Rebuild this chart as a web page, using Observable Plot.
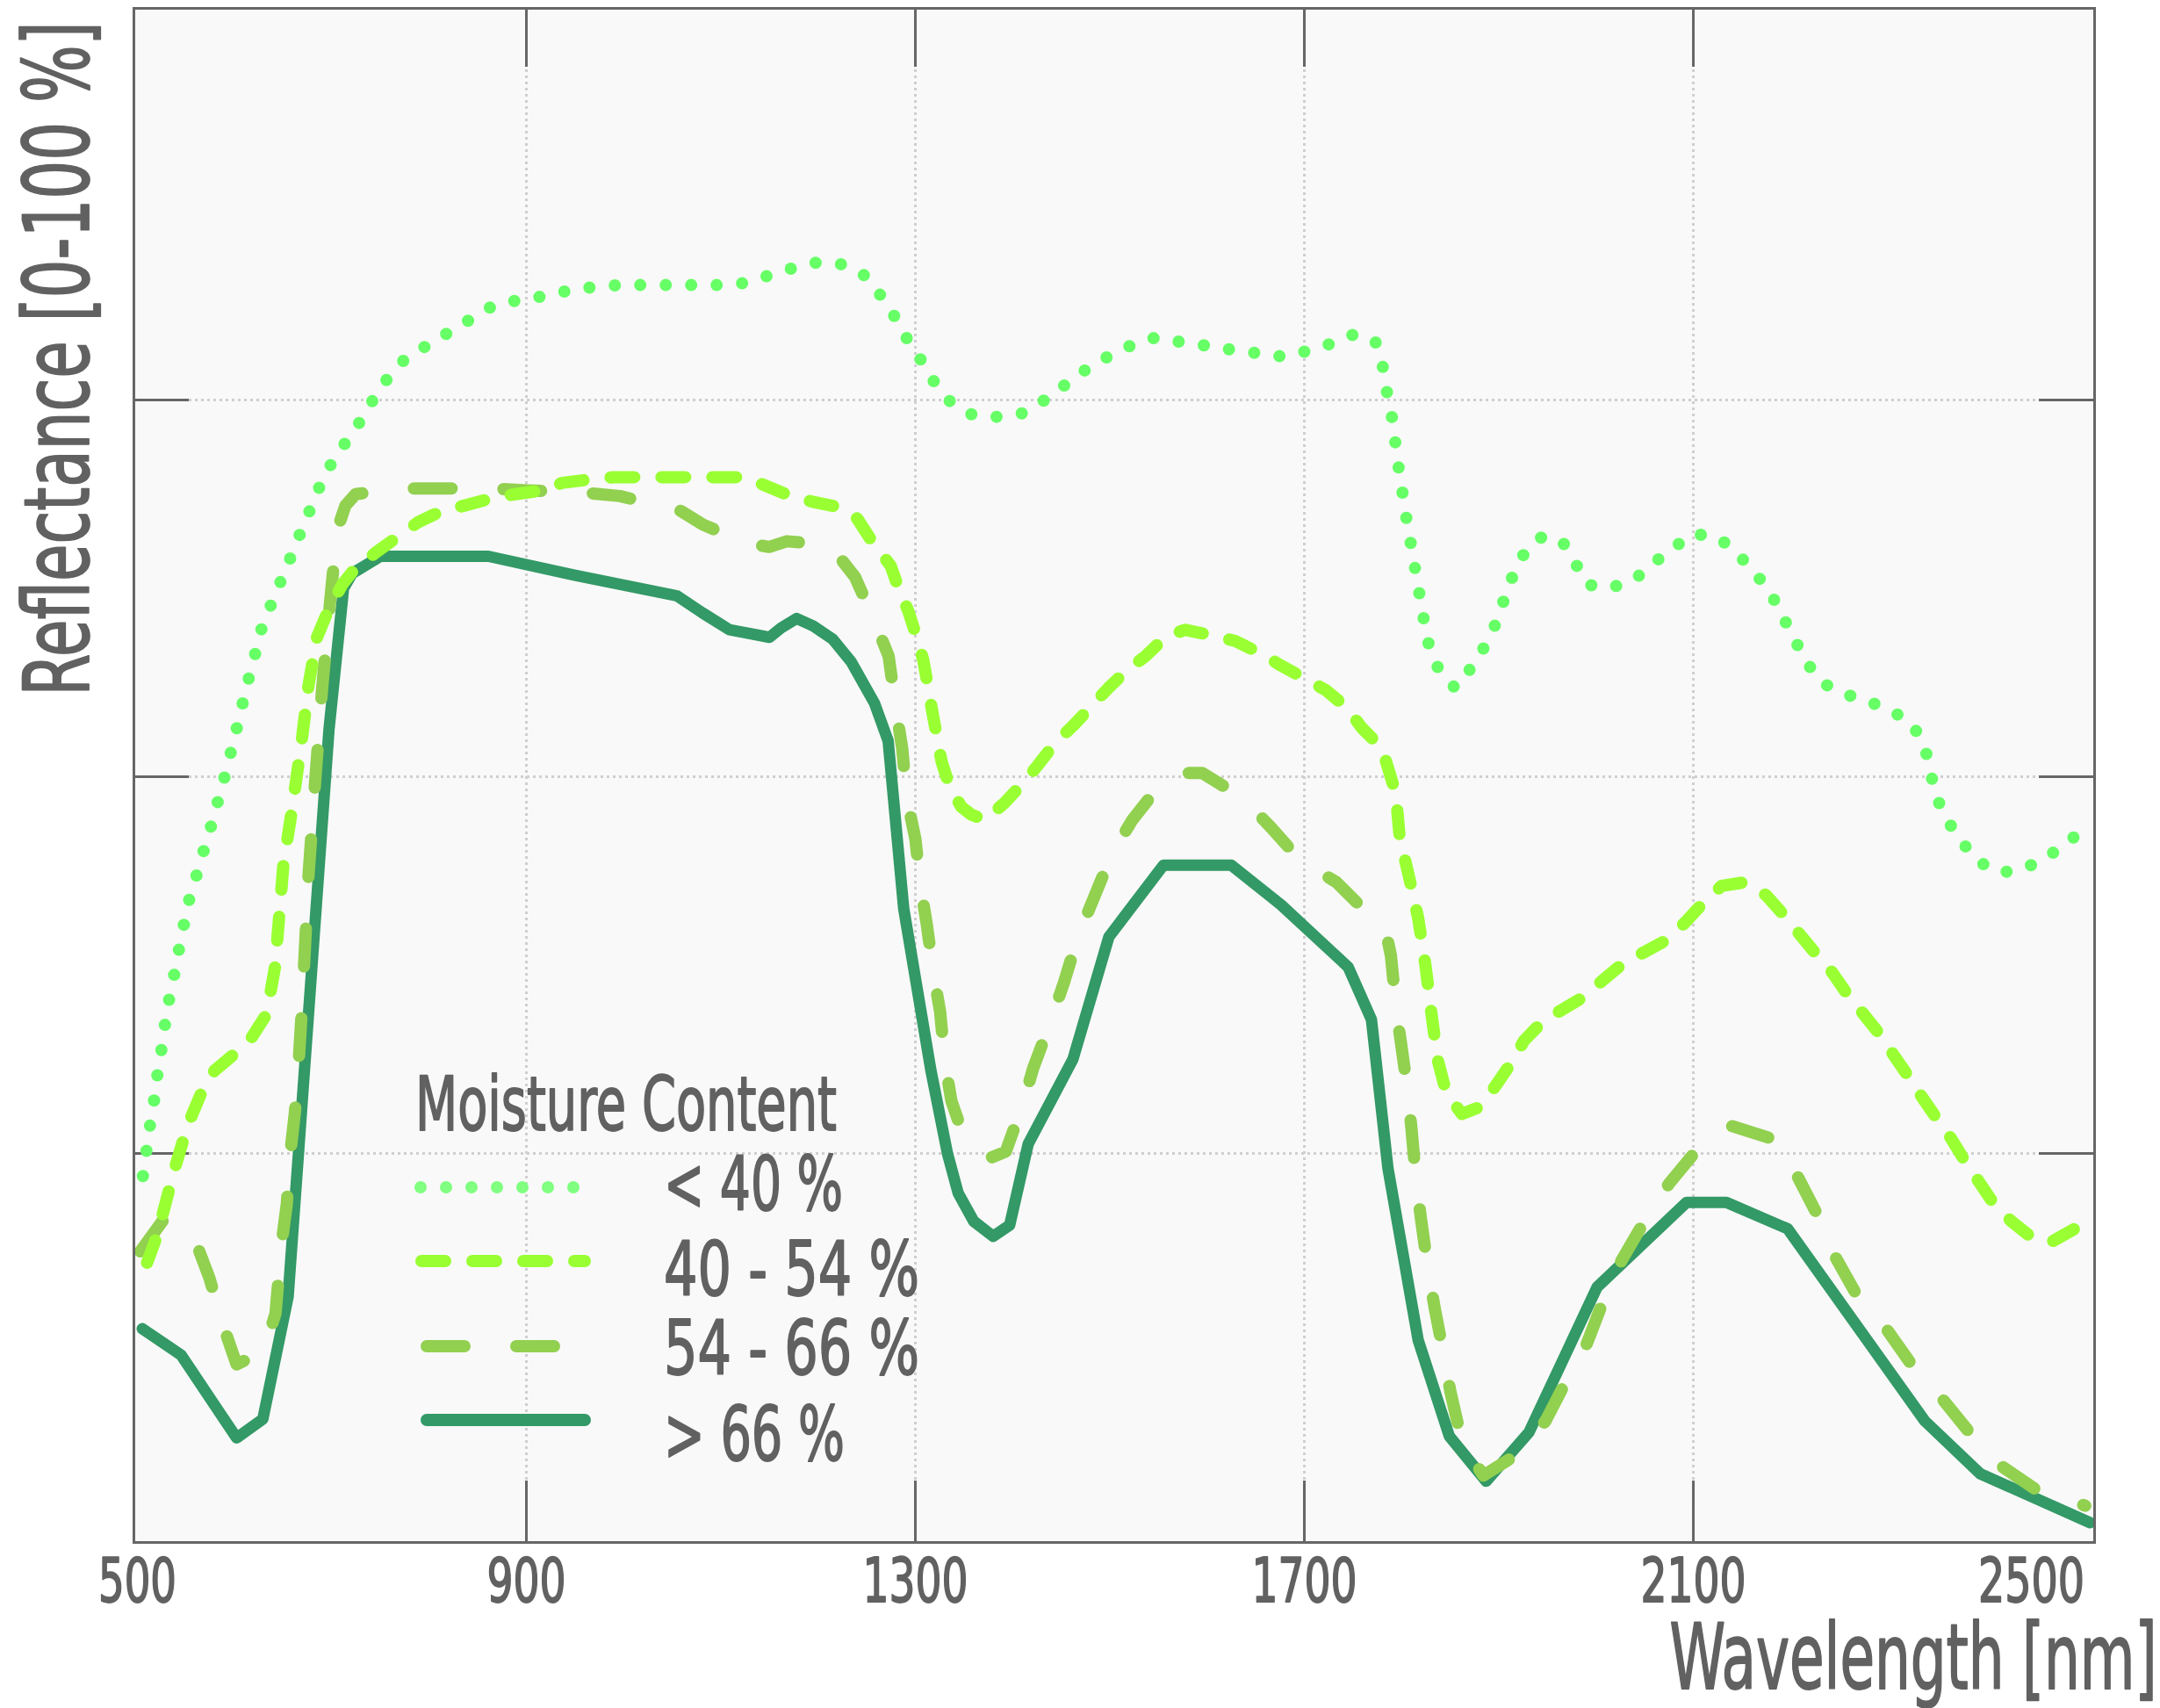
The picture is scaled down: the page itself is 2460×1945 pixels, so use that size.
<!DOCTYPE html>
<html><head><meta charset="utf-8">
<script src="https://cdn.jsdelivr.net/npm/d3@7"></script>
<script src="https://cdn.jsdelivr.net/npm/@observablehq/plot@0.6"></script>
<style>
body{margin:0;background:#fff;}
#chart{width:2460px;height:1945px;}
</style></head><body><div id="chart"></div>
<script>
// ---- data (wavelength nm, reflectance %) ----
const seriesLabels = ["< 40 %", "40 - 54 %", "54 - 66 %", "> 66 %"];
const xTickValues = [500, 900, 1300, 1700, 2100, 2500];
const gridX = [900, 1300, 1700, 2100];
const gridY = [20, 40, 60];

const moistLow = [[505.7,18.8],[509.2,20.1],[513,21.5],[517.1,22.8],[520.6,24.2],[524.7,25.5],[528.5,26.9],[532.7,28.2],[537.9,29.5],[543,30.9],[548,32.2],[553.4,33.5],[561,34.8],[568.3,36.1],[575.9,37.4],[582.8,38.7],[589.7,40.0],[596.6,41.4],[602.8,42.7],[608.7,44.0],[614.9,45.3],[621.5,46.6],[628.4,48.0],[638,49.2],[648.4,50.5],[658,51.7],[668.1,53.0],[677.8,54.2],[688.2,55.5],[700.2,56.7],[714.8,57.8],[729.6,58.9],[743.4,60.1],[758,61.2],[775.6,62.2],[798,62.9],[820.5,63.6],[843,64.3],[865.7,65.0],[891.3,65.3],[917.2,65.5],[943.1,65.8],[969,66.0],[995,66.1],[1045,66.1],[1097,66.1],[1123,66.2],[1149,66.6],[1174,67.0],[1199,67.3],[1225,67.2],[1248,66.6],[1265,65.5],[1279,64.4],[1292,63.2],[1306,62.1],[1320,60.9],[1336,59.9],[1359,59.2],[1385,59.1],[1411,59.3],[1433,60.0],[1454,60.8],[1475,61.6],[1498,62.3],[1522,62.9],[1546,63.3],[1571,63.1],[1597,62.9],[1621,62.7],[1678,62.3],[1703,62.6],[1728,63.0],[1752,63.5],[1773,63.1],[1781,61.7],[1785,60.4],[1790,59.1],[1797,56.4],[1805,53.7],[1814,51.0],[1823,48.3],[1828,47.0],[1838,45.7],[1855,44.7],[1869,45.6],[1883,46.7],[1895,47.9],[1904,49.2],[1913,50.5],[1924,51.7],[1942,52.7],[1964,52.6],[1978,51.4],[1991,50.2],[2013,50.0],[2038,50.4],[2058,51.3],[2078,52.1],[2100,52.9],[2126,52.7],[2146,51.8],[2164,50.8],[2180,49.7],[2192,48.5],[2204,47.3],[2216,46.1],[2232,45.0],[2255,44.4],[2280,44.0],[2304,43.5],[2325,42.8],[2338,41.6],[2344,40.2],[2350,38.9],[2361,37.7],[2375,36.6],[2393,35.5],[2415,34.9],[2439,35.1],[2463,35.7],[2484,36.5],[2494,36.9]];

const moistMid1 = [[510,14.2],[520.6,15.7],[532.7,18.1],[539.6,19.4],[548.2,20.9],[555.8,22.0],[567.2,23.4],[579.3,24.4],[600,25.3],[618,26.2],[632.9,27.4],[641.5,29.9],[650.1,35.3],[658.8,38.2],[669.2,42.0],[676.1,44.9],[684.7,47.4],[695.1,48.7],[710.6,50.2],[724.4,51.1],[745.2,51.9],[769.3,52.8],[788.3,53.5],[812.5,54.1],[836.7,54.4],[866.1,54.8],[888.5,55.0],[916.2,55.2],[936.9,55.6],[968,55.8],[990,55.9],[1125,55.9],[1143.6,55.5],[1171.8,54.9],[1194,54.6],[1222.2,54.3],[1240.3,53.7],[1256.5,52.4],[1274.6,51.2],[1282.7,50.0],[1292.7,48.8],[1300.8,47.5],[1308.1,46.2],[1312.9,44.8],[1316.9,43.6],[1322.2,42.1],[1327,40.8],[1335.1,39.5],[1347.2,38.4],[1357.2,38.0],[1371.3,37.7],[1391.5,38.6],[1409.6,39.6],[1425.8,40.6],[1443.9,41.8],[1462,42.7],[1480.2,43.7],[1498.3,44.7],[1516.5,45.6],[1536.6,46.4],[1556.8,47.4],[1577,47.8],[1606,47.5],[1629,47.2],[1657,46.5],[1676,45.9],[1701,45.2],[1722,44.6],[1743,43.7],[1759,42.6],[1780,41.5],[1787,40.3],[1794,39.1],[1798,36.8],[1808,34.6],[1817,32.5],[1824.5,30.0],[1830.5,27.5],[1837,25.0],[1846,23.2],[1862,22.1],[1882,22.5],[1898,23.7],[1914,24.9],[1926,26.0],[1945,27.0],[1964,27.6],[1987,28.3],[2007,29.2],[2028,30.1],[2050,30.7],[2075,31.4],[2094,32.4],[2110,33.3],[2129,34.2],[2153,34.4],[2175,33.7],[2194,32.6],[2210,31.6],[2226,30.6],[2243,29.6],[2259,28.4],[2275,27.4],[2292,26.3],[2305,25.3],[2321,24.1],[2335,23.0],[2351,21.8],[2365,20.8],[2378,19.7],[2395,18.4],[2408,17.4],[2427,16.4],[2449,15.5],[2468,15.3],[2492,16.0],[2500,16.3]];

const moistMid2 = [[503,14.8],[527,16.5],[558.6,15.5],[574,13.4],[588,10.9],[602,8.8],[630,9.5],[642,11.5],[648,15.1],[653.6,17.3],[657,19.9],[662,22.2],[665.7,24.7],[669.5,28.0],[676,34.8],[683,39.9],[690,44.7],[698,49.2],[705.4,53.1],[714,54.4],[724.4,55.0],[769,55.3],[864,55.3],[902,55.2],[956,55.1],[996,54.9],[1045,54.3],[1059,54.1],[1081,53.4],[1125.5,52.4],[1149.6,52.2],[1167.8,52.5],[1212,52.3],[1238,50.6],[1258.5,48.2],[1272.5,46.4],[1280,43.6],[1286.5,41.5],[1291,38.9],[1300,36.7],[1305,34.3],[1311.6,32.2],[1318.6,29.6],[1325.5,27.5],[1330.2,24.9],[1337,22.8],[1346.4,21.4],[1358,20.6],[1379,19.8],[1393,20.1],[1411,22.7],[1421,24.5],[1439,27.0],[1453,29.1],[1467,31.5],[1483,33.5],[1502,35.9],[1523,37.7],[1555,39.8],[1578,40.2],[1595,40.2],[1636,38.9],[1664,37.4],[1697,35.5],[1733,34.4],[1768,32.6],[1785,31.5],[1789,30.5],[1795,27.4],[1799,26.0],[1806,23.4],[1810,21.4],[1815,18.5],[1820,16.5],[1827,13.9],[1834,11.8],[1843,9.4],[1850,7.4],[1862,4.7],[1884,2.9],[1924,4.2],[1948,5.8],[1971,8.1],[1986,9.3],[2009,12.4],[2026,14.3],[2053,16.7],[2075,18.4],[2107,20.4],[2137,21.5],[2186,20.7],[2205,19.0],[2229,16.6],[2245,14.6],[2270,12.3],[2297,10.8],[2327,8.6],[2354,7.1],[2387,5.0],[2414,3.5],[2454,2.1],[2492,1.5],[2503,1.3]];

const moistHigh = [[505,10.7],[545,9.3],[602,4.9],[629,5.9],[655,12.4],[697,42.5],[712,50.0],[721,50.8],[750,51.7],[861,51.7],[949,50.7],[1055,49.6],[1081,48.7],[1109,47.8],[1150,47.4],[1162,47.9],[1178,48.4],[1195,48.0],[1215,47.3],[1234,46.1],[1258,43.9],[1272,41.9],[1288,33.0],[1316,24.4],[1333,20.0],[1344,17.9],[1360,16.4],[1380,15.6],[1397,16.2],[1416,20.5],[1462,25.0],[1499,31.5],[1555,35.3],[1625,35.3],[1676,33.2],[1745,29.9],[1769,27.1],[1786,19.2],[1817,10.1],[1849,5.0],[1887,2.6],[1931,5.2],[2001,12.9],[2093,17.4],[2134,17.4],[2197,16.0],[2338,5.8],[2395,3.0],[2508,0.4]];

// ---- styles ----
const FONT = "'Liberation Sans Narrow','DejaVu Sans Condensed','Roboto Condensed','Liberation Sans',sans-serif";
const TXT = "#616161";
const colors = ["#66FF66", "#99FF33", "#92D050", "#339966"];
const legendColors = ["#80FF80", "#99FF33", "#92D050", "#339966"];
const dashes = ["0,29", "27,31", "43,59", null];
const widths = [14, 14, 14, 13];
const seriesData = [moistLow, moistMid1, moistMid2, moistHigh];

const toRows = arr => arr.map(([wl, r]) => ({wl, r}));

const lineMark = i => Plot.line(toRows(seriesData[i]), {
  x: "wl", y: "r", stroke: colors[i], strokeWidth: widths[i],
  strokeDasharray: dashes[i] || undefined, strokeLinecap: "round", strokeLinejoin: "round"
});

const tickStyle = {stroke: "#666", strokeWidth: 3, strokeOpacity: 1};
const gridStyle = {stroke: "#cfcfcf", strokeWidth: 3, strokeOpacity: 1, strokeDasharray: "3,4"};

const plot = Plot.plot({
  width: 2460, height: 1945,
  marginLeft: 152, marginRight: 75, marginTop: 9, marginBottom: 189,
  x: {domain: [496.4, 2512.6], axis: null},
  y: {domain: [-0.65, 80.79], axis: null},
  style: {fontFamily: FONT, background: "#fff", overflow: "visible"},
  marks: [
    Plot.frame({fill: "#f9f9f9"}),
    Plot.ruleX(gridX, gridStyle),
    Plot.ruleY(gridY, gridStyle),
    Plot.ruleX(gridX, {...tickStyle, insetTop: 1677}),
    Plot.ruleX(gridX, {...tickStyle, insetBottom: 1680}),
    Plot.ruleY(gridY, {...tickStyle, insetRight: 2170}),
    Plot.ruleY(gridY, {...tickStyle, insetLeft: 2170}),
    lineMark(3), lineMark(2), lineMark(1), lineMark(0),
    Plot.frame({stroke: "#666", strokeWidth: 3}),
    Plot.text(xTickValues.slice(0, 5), {x: d => d, text: d => String(d), frameAnchor: "bottom", lineAnchor: "top", dy: 18, fontSize: 70, fill: TXT}),
    Plot.text(xTickValues.slice(5), {x: d => d, text: d => String(d), frameAnchor: "bottom", lineAnchor: "top", dy: 18, dx: -58, fontSize: 70, fill: TXT}),
    Plot.text(["Wavelength [nm]"], {text: d => d, frameAnchor: "bottom-right", textAnchor: "end", lineAnchor: "bottom", dx: 71, dy: 166, fontSize: 103, fill: TXT}),
    Plot.text(["Reflectance [0-100 %]"], {text: d => d, frameAnchor: "top-left", rotate: -90, textAnchor: "end", lineAnchor: "bottom", dx: -52, dy: 15, fontSize: 103, fill: TXT})
  ]
});

document.getElementById("chart").append(plot);

// ---- legend ----
const svg = d3.select(plot);
const lg = svg.append("g").attr("font-family", FONT).attr("fill", TXT).attr("text-anchor", "start");
lg.append("text").attr("x", 473).attr("y", 1287).attr("font-size", 86).attr("text-anchor", "start").text("Moisture Content");
const legendRowY = [1352, 1436, 1533, 1617];
const legendTextY = [1378, 1475, 1565, 1663];
seriesLabels.forEach((lab, i) => {
  const ln = lg.append("line")
    .attr("x1", i === 0 ? 479 : (i === 1 ? 480 : 486)).attr("x2", i === 0 ? 654 : 666)
    .attr("y1", legendRowY[i]).attr("y2", legendRowY[i])
    .attr("stroke", legendColors[i]).attr("stroke-width", widths[i] + (i === 3 ? 1 : 0))
    .attr("stroke-linecap", "round");
  if (dashes[i]) ln.attr("stroke-dasharray", dashes[i]);
  lg.append("text").attr("x", 756).attr("y", legendTextY[i]).attr("font-size", 86).attr("text-anchor", "start").text(lab);
});

// ---- fit text widths to the reference's condensed face, slightly heavier strokes ----
const targetW = {
  "Wavelength [nm]": 555, "Reflectance [0-100 %]": 768, "Moisture Content": 480,
  "< 40 %": 204, "40 - 54 %": 291, "54 - 66 %": 291, "> 66 %": 206,
  "500": 89, "900": 90, "1300": 120, "1700": 120, "2100": 120, "2500": 121
};
plot.querySelectorAll("text").forEach(t => {
  const w = targetW[t.textContent.trim()];
  if (w) {
    t.setAttribute("textLength", w);
    t.setAttribute("lengthAdjust", "spacingAndGlyphs");
    t.setAttribute("stroke", TXT);
    t.setAttribute("stroke-width", 1.8);
    t.setAttribute("stroke-linejoin", "round");
  }
});
</script>
</body></html>
